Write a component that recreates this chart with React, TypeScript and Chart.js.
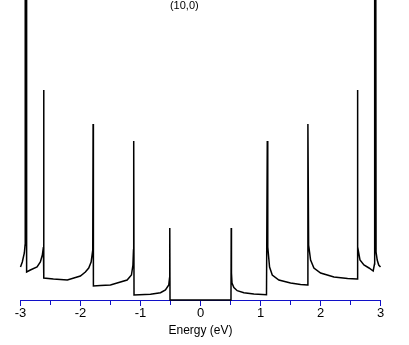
import React, { useEffect, useRef } from 'react';
import { Chart, registerables } from 'chart.js';

Chart.register(...registerables);

// Energy (eV) and density of states
const energies = [
  -3.0, -2.97, -2.936, -2.924, -2.921, -2.903, -2.898, -2.836, -2.724, -2.669,
  -2.636, -2.618, -2.614, -2.61, -2.452, -2.219, -2.002, -1.919, -1.863, -1.823,
  -1.796, -1.79, -1.785, -1.668, -1.501, -1.39, -1.223, -1.151, -1.126, -1.117,
  -1.113, -1.108, -0.834, -0.667, -0.584, -0.529, -0.516, -0.512, -0.508,
  0.508, 0.512, 0.516, 0.525, 0.556, 0.612, 0.723, 0.889, 1.1, 1.113,
  1.121, 1.151, 1.196, 1.306, 1.501, 1.668, 1.785, 1.79, 1.802, 1.835,
  1.89, 2.002, 2.224, 2.452, 2.61, 2.614, 2.624, 2.658, 2.724, 2.808,
  2.878, 2.9, 2.903, 2.921, 2.926, 2.945, 2.97, 3.0,
];
const dos = [
  0.33, 0.38, 0.47, 0.55, 3.6, 3.6, 0.28, 0.3, 0.33, 0.38,
  0.45, 0.53, 2.1, 0.22, 0.21, 0.2, 0.24, 0.28, 0.32, 0.38,
  0.5, 1.76, 0.14, 0.145, 0.15, 0.17, 0.2, 0.25, 0.35, 0.5,
  1.59, 0.05, 0.057, 0.073, 0.1, 0.15, 0.22, 0.72, 0,
  0, 0.72, 0.27, 0.17, 0.125, 0.093, 0.073, 0.06, 0.053, 1.59,
  0.53, 0.33, 0.25, 0.2, 0.17, 0.155, 0.15, 1.76, 0.55, 0.4,
  0.32, 0.27, 0.23, 0.215, 0.21, 2.1, 0.53, 0.4, 0.35, 0.32,
  0.29, 0.36, 3.6, 3.6, 0.48, 0.4, 0.35, 0.33,
];

const xMin = -3;
const xMax = 3;
const tickStep = 0.5;
const chartTitle = '(10,0)';
const xAxisTitle = 'Energy (eV)';

const AXIS_BLUE = '#1010c8';
const FONT = '"Liberation Sans", Arial, sans-serif';

export default function App() {
  const canvasRef = useRef<HTMLCanvasElement>(null);

  useEffect(() => {
    if (!canvasRef.current) return;
    const points = energies.map((e, i) => ({ x: e, y: dos[i] }));

    const innerTitle = {
      id: 'innerTitle',
      afterDraw(chart: any) {
        const { ctx, chartArea } = chart;
        ctx.save();
        ctx.font = '11px ' + FONT;
        ctx.fillStyle = '#000';
        ctx.textAlign = 'center';
        ctx.textBaseline = 'middle';
        ctx.fillText(chartTitle, chartArea.left + chartArea.width * 0.455, chartArea.top + 6);
        ctx.restore();
      },
    };

    const chart = new Chart(canvasRef.current, {
      type: 'line',
      data: {
        datasets: [
          {
            data: points,
            borderColor: '#000',
            borderWidth: 1.5,
            pointRadius: 0,
            tension: 0,
            fill: false,
            clip: false,
          },
        ],
      },
      options: {
        responsive: false,
        animation: false,
        events: [],
        layout: { padding: { left: 20.5, right: 28.5, top: 0, bottom: 5 } },
        plugins: {
          legend: { display: false },
          tooltip: { enabled: false },
          title: { display: false },
        },
        scales: {
          x: {
            type: 'linear',
            min: xMin,
            max: xMax,
            border: { display: true, color: AXIS_BLUE, width: 1 },
            grid: {
              drawOnChartArea: false,
              drawTicks: true,
              tickLength: 6,
              color: AXIS_BLUE,
              tickColor: AXIS_BLUE,
              tickBorderDash: (ctx: any) =>
                ctx.tick && Number.isInteger(ctx.tick.value) ? [] : [4, 40],
            },
            ticks: {
              stepSize: tickStep,
              autoSkip: false,
              maxRotation: 0,
              padding: 0,
              color: '#000',
              font: { family: FONT, size: 13 },
              callback: (v: any) => (Number.isInteger(Number(v)) ? String(v) : ''),
            },
            title: {
              display: true,
              text: xAxisTitle,
              color: '#000',
              font: { family: FONT, size: 12 },
              padding: { top: 2, bottom: 2 },
            },
          },
          y: { type: 'linear', display: false, min: 0, max: 3 },
        },
      },
      plugins: [innerTitle],
    } as any);

    return () => chart.destroy();
  }, []);

  return (
    <div style={{ position: 'fixed', left: 0, top: 0, width: 409, height: 345, background: '#fff' }}>
      <canvas ref={canvasRef} width={409} height={345} style={{ display: 'block' }} />
    </div>
  );
}
